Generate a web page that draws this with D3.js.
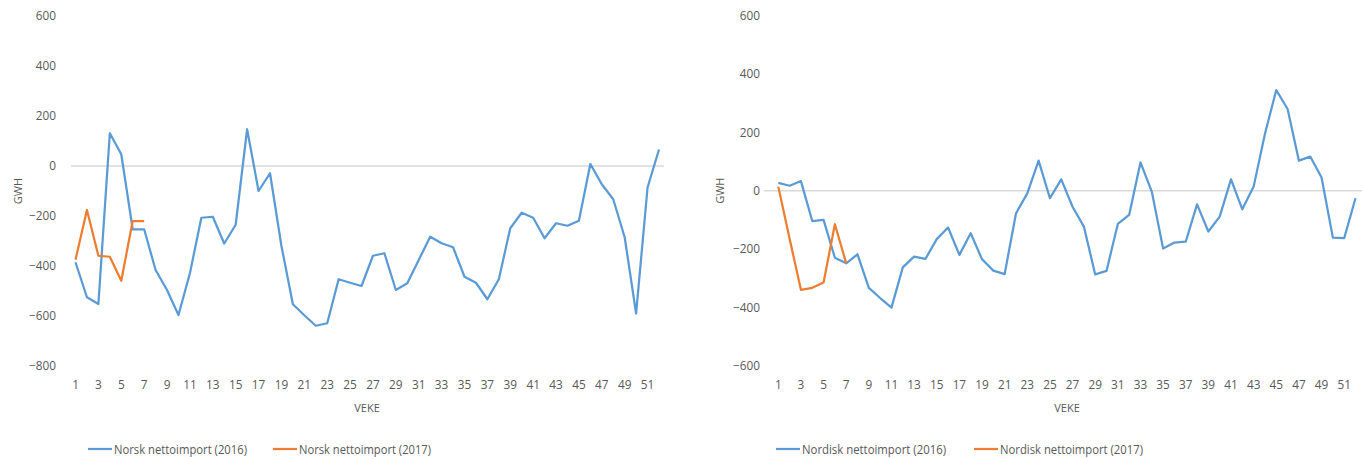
<!DOCTYPE html>
<html>
<head>
<meta charset="utf-8">
<script src="https://cdn.jsdelivr.net/npm/d3@7"></script>
<style>
  html, body { margin: 0; padding: 0; background: #fff; }
  svg { display: block; }
  text { font-family: "Open Sans", "Noto Sans", sans-serif; fill: #595959; }
</style>
</head>
<body>
<svg id="chart" width="1362" height="459"></svg>
<script>
// Weekly net import, GWh, weeks 1–52
const weeks = d3.range(1, 53);
const weekTicks = d3.range(1, 52, 2);

const norsk2016 = [-385, -525, -552, 131, 47, -253, -253, -416, -496, -596,
  -429, -207, -203, -310, -235, 147, -100, -29, -320, -553,
  -597, -639, -629, -453, -467, -480, -359, -349, -496, -469,
  -376, -283, -309, -325, -443, -467, -533, -453, -249, -187,
  -207, -289, -229, -239, -219, 8, -73, -133, -285, -590,
  -86, 66];
const norsk2017 = [-375, -176, -359, -363, -459, -220, -220];

const nordisk2016 = [27, 17, 33, -104, -100, -230, -249, -218, -333, -368,
  -401, -263, -226, -234, -166, -126, -220, -146, -235, -274,
  -286, -78, -9, 103, -26, 39, -55, -123, -287, -275,
  -114, -83, 97, -3, -198, -178, -175, -47, -140, -89,
  39, -64, 14, 195, 345, 280, 103, 117, 45, -161,
  -163, -26];
const nordisk2017 = [14, -165, -340, -333, -315, -115, -249];

const norskTicks = [-800, -600, -400, -200, 0, 200, 400, 600];
const nordiskTicks = [-600, -400, -200, 0, 200, 400, 600];

const norskLegend = ["Norsk nettoimport (2016)", "Norsk nettoimport (2017)"];
const nordiskLegend = ["Nordisk nettoimport (2016)", "Nordisk nettoimport (2017)"];

const colors = ["#5B9BD5", "#ED7D31"];

const svg = d3.select("#chart");

function drawPanel(opt) {
  const g = svg.append("g");

  const x = d3.scalePoint().domain(weeks).range([opt.firstX, opt.lastX]);
  const y = d3.scaleLinear().domain(d3.extent(opt.yTicks)).range([opt.bottom, opt.top]);

  // zero gridline
  g.append("line")
    .attr("x1", opt.gridLeft).attr("x2", opt.gridRight)
    .attr("y1", y(0)).attr("y2", y(0))
    .attr("stroke", "#d9d9d9").attr("stroke-width", 1.5);

  // value axis
  const yAxis = g.append("g")
    .attr("transform", `translate(${opt.yLabelX},0)`)
    .call(d3.axisLeft(y).tickValues(opt.yTicks).tickSize(0).tickPadding(0));
  yAxis.select(".domain").remove();
  yAxis.selectAll("text")
    .style("font-family", '"Open Sans", sans-serif')
    .style("font-size", "11.8px")
    .attr("fill", "#595959");

  // category labels
  g.append("g").selectAll("text")
    .data(weekTicks)
    .join("text")
    .attr("x", d => x(d))
    .attr("y", opt.xLabelY)
    .attr("text-anchor", "middle")
    .attr("dominant-baseline", "central")
    .style("font-size", "11.8px")
    .text(d => d);

  // axis titles
  g.append("text")
    .attr("transform", `translate(${opt.yTitleX},${(opt.top + opt.bottom) / 2}) rotate(-90)`)
    .attr("text-anchor", "middle")
    .attr("dominant-baseline", "central")
    .style("font-size", "11px")
    .text("GWH");
  g.append("text")
    .attr("x", opt.xTitleX).attr("y", opt.xTitleY)
    .attr("text-anchor", "middle")
    .attr("dominant-baseline", "central")
    .style("font-size", "11px")
    .text("VEKE");

  // series lines
  const line = d3.line()
    .x((d, i) => x(weeks[i]))
    .y(d => y(d));
  opt.series.forEach((s, k) => {
    g.append("path")
      .datum(s)
      .attr("fill", "none")
      .attr("stroke", colors[k])
      .attr("stroke-width", 2.25)
      .attr("stroke-linejoin", "round")
      .attr("d", line);
  });

  // legend
  const lg = g.append("g");
  opt.legend.forEach((name, k) => {
    const lx = opt.legendX[k];
    lg.append("line")
      .attr("x1", lx).attr("x2", lx + 24)
      .attr("y1", opt.legendY).attr("y2", opt.legendY)
      .attr("stroke", colors[k]).attr("stroke-width", 2.25);
    lg.append("text")
      .attr("x", lx + 26).attr("y", opt.legendY)
      .attr("dominant-baseline", "central")
      .attr("textLength", opt.legendWidth[k])
      .attr("lengthAdjust", "spacingAndGlyphs")
      .style("font-size", "13.2px")
      .text(name);
  });
}

drawPanel({
  series: [norsk2016, norsk2017],
  yTicks: norskTicks,
  legend: norskLegend,
  firstX: 75.5, lastX: 659,
  gridLeft: 71, gridRight: 664,
  top: 16, bottom: 366,
  yLabelX: 56, xLabelY: 384,
  yTitleX: 17, xTitleX: 367, xTitleY: 407,
  legendX: [88, 273], legendWidth: [133, 132], legendY: 449
});

drawPanel({
  series: [nordisk2016, nordisk2017],
  yTicks: nordiskTicks,
  legend: nordiskLegend,
  firstX: 778.3, lastX: 1355.5,
  gridLeft: 764, gridRight: 1362,
  top: 15.7, bottom: 365.7,
  yLabelX: 760, xLabelY: 384,
  yTitleX: 719, xTitleX: 1067, xTitleY: 407,
  legendX: [776, 974], legendWidth: [144, 143], legendY: 449
});
</script>
</body>
</html>
